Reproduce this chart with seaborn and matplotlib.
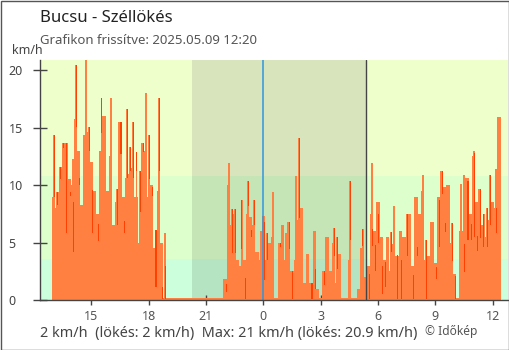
import numpy as np
import pandas as pd
import matplotlib
matplotlib.use("Agg")
import matplotlib.pyplot as plt
import seaborn as sns
from matplotlib.patches import Rectangle

sns.set_theme(style="white")
plt.rcParams['font.family'] = ['Noto Sans', 'DejaVu Sans']

# ---- data (10-minute gust values, hours relative to midnight) ----
start_hour = -11.0          # 13:00 of previous day
step_hour = 1.0 / 6.0

gust = [
    9.0, 8.0, 9.4, 11.6, 13.7, 10.5, 10.0, 15.8, 13.0, 8.3,
    14.4, 14.6, 12.0, 9.5, 7.5, 13.0, 16.0, 9.5, 12.5, 6.5,
    8.5, 15.5, 9.0, 10.6, 11.0, 11.5, 9.0, 5.0, 13.7, 13.0,
    9.0, 10.0, 4.5, 9.5, 5.0, 0.15, 0.15, 0.15, 0.15, 0.15,
    0.15, 0.15, 0.15, 0.15, 0.15, 0.15, 0.15, 0.15, 0.15, 0.15,
    0.15, 0.15, 0.15, 0.15, 1.8, 10.0, 6.5, 7.5, 3.5, 3.0,
    3.5, 7.5, 7.2, 6.5, 4.2, 3.5, 7.3, 3.5, 5.0, 5.5,
    0.15, 5.0, 6.5, 3.5, 6.8, 2.5, 3.5, 7.0, 8.0, 1.5,
    4.0, 1.5, 6.0, 1.0, 0.15, 2.5, 5.5, 2.5, 5.0, 1.5,
    4.0, 0.15, 0.15, 3.5, 0.15, 0.15, 1.0, 4.5, 2.0, 3.0,
    7.5, 6.0, 8.5, 5.5, 3.5, 5.5, 2.5, 4.9, 3.8, 6.0,
    5.5, 5.5, 7.5, 3.0, 9.0, 7.5, 9.5, 3.5, 3.8, 6.8,
    3.2, 9.0, 11.2, 9.8, 10.0, 5.0, 2.3, 0.15, 6.0, 6.0,
    10.6, 7.5, 12.5, 8.5, 9.7, 6.5, 5.5, 7.0, 8.5, 8.0,
    15.9,
]

# narrow gust peaks inside a 10-minute slot (bar index -> value)
peak_idx = [0, 1, 2, 3, 6, 7, 10, 11, 15, 18, 20, 23, 24, 25, 26, 27, 29, 30, 32, 33,
            35, 55, 56, 57, 59, 61, 63, 65, 67, 69, 73, 76, 77, 88, 89, 93, 97, 100,
            106, 107, 111, 116, 117, 125, 128, 129, 132, 135, 136, 137, 139]
peak_val = [14.4, 9.4, 11.6, 13.7, 12.3, 20.5, 20.9, 15.1, 17.6, 17.6, 9.7, 16.6, 13.3, 15.5, 12.9, 11.2, 18.0, 14.4, 6.1, 17.6,
            5.8, 11.9, 7.9, 7.9, 8.7, 10.4, 8.7, 6.0, 5.8, 9.4, 5.8, 10.8, 14.1, 6.3, 5.5, 10.4, 6.2, 11.9,
            5.9, 8.2, 7.5, 10.9, 5.2, 6.7, 10.1, 10.9, 13.0, 7.5, 8.0, 10.9, 11.4]

# darker segments (bar index, top, bottom)
dark_idx = [0, 1, 2, 3, 4, 5, 6, 7, 8, 11, 12, 14, 15, 20, 21, 22, 23, 24, 25, 26,
            27, 28, 30, 31, 32, 33, 34, 35, 54, 56, 57, 59, 60, 61, 62, 63, 66, 67, 71, 74,
            75, 77, 81, 82, 85, 88, 89, 93, 97, 99, 100, 101, 102, 103, 104, 106, 108, 109, 111, 113,
            114, 117, 120, 121, 122, 123, 125, 126, 129, 130, 131, 132, 133, 134, 135, 136, 137, 139]
dark_hi = [14.4, 9.4, 11.6, 13.7, 13.7, 9.4, 8.5, 20.5, 10.6, 15.1, 9.6, 6.6, 17.6, 9.7, 15.5, 6.9, 16.6, 13.3, 15.5, 12.9,
           11.2, 13.7, 14.4, 9.8, 6.1, 17.6, 1.1, 3.0, 1.4, 7.9, 7.9, 8.7, 1.9, 10.4, 6.1, 8.7, 6.8, 5.8, 5.0, 6.8,
           2.5, 14.1, 1.5, 2.7, 2.5, 6.3, 5.5, 10.4, 6.2, 2.3, 6.2, 4.8, 7.5, 3.0, 3.3, 5.9, 3.9, 3.5, 7.5, 2.2,
           4.6, 5.2, 2.9, 8.7, 11.2, 6.7, 6.7, 2.1, 4.9, 10.4, 6.6, 12.8, 5.6, 9.7, 7.5, 8.0, 10.9, 8.0]
dark_lo = [9.0, 8.3, 10.5, 13.2, 5.8, 9.1, 4.2, 15.1, 10.0, 13.0, 5.8, 5.1, 14.5, 6.5, 12.7, 5.8, 10.6, 11.2, 10.6, 11.2,
           7.7, 12.9, 10.5, 9.1, 1.1, 11.2, 0.1, 0.1, 0.7, 4.1, 4.1, 4.4, 0.1, 8.2, 5.5, 6.5, 1.7, 3.5, 4.6, 4.4,
           0.1, 7.1, 0.1, 1.0, 1.3, 3.8, 2.7, 5.2, 4.7, 0.1, 4.7, 2.5, 5.0, 0.5, 1.1, 4.2, 0.1, 0.1, 3.8, 0.1,
           3.8, 0.1, 1.8, 4.6, 9.2, 5.9, 3.4, 0.1, 2.4, 5.2, 5.2, 5.5, 4.3, 5.4, 4.6, 4.6, 6.5, 5.8]

# wind-strength bands (km/h) and colours (day, night)
band_lo = [0.0, 3.6, 10.8]
band_hi = [3.6, 10.8, 25.0]
band_day = ["#ccffdc", "#ddffcc", "#eeffcc"]
band_night = ["#b5e4c3", "#c6e5b7", "#d8e4bb"]
night_start = -3.73
sunrise = 5.38

xtick_pos = [-9, -6, -3, 0, 3, 6, 9, 12]
xtick_lab = ["15", "18", "21", "0", "3", "6", "9", "12"]
ytick_pos = [0, 5, 10, 15, 20]

title = "Bucsu - Széllökés"
subtitle = "Grafikon frissítve: 2025.05.09 12:20"
footer = "2 km/h  (lökés: 2 km/h)  Max: 21 km/h (lökés: 20.9 km/h)"
credit = "© Időkép"

# ---- figure ----
fig = plt.figure(figsize=(5.1, 3.5), dpi=100)
fig.patch.set_facecolor("white")
ax = fig.add_axes([40 / 510, 50 / 350, 468 / 510, 240 / 350])

xmin, xmax = -11.69, 12.81
for lo, hi, dc, nc in zip(band_lo, band_hi, band_day, band_night):
    ax.axhspan(lo, hi, color=dc, lw=0, zorder=0)
    ax.fill_between([night_start, sunrise], lo, hi, color=nc, lw=0, zorder=0.5)

times = start_hour + step_hour * np.arange(len(gust))
df = pd.DataFrame({"t": times, "gust": gust})
sns.barplot(data=df, x="t", y="gust", native_scale=True, width=1.02,
            color="#ff8040", saturation=1, errorbar=None, linewidth=0,
            ax=ax, zorder=2)

pt = start_hour + step_hour * np.array(peak_idx)
ax.bar(pt + 0.03, peak_val, width=0.1, color="#ff8040", lw=0, zorder=3)

dt = start_hour + step_hour * np.array(dark_idx)
dh = np.array(dark_hi)
dl = np.array(dark_lo)
ax.bar(dt + 0.05, dh - dl, bottom=dl, width=0.055, color="#ff4000", lw=0, zorder=4)

ax.axvline(0, color="#2f96e0", lw=1.1, zorder=5)
ax.axvline(sunrise, color="#444444", lw=1, zorder=5)

ax.set_xlim(xmin, xmax)
ax.set_ylim(0, 20.9)
ax.set_xlabel("")
ax.set_ylabel("")
ax.set_xticks(xtick_pos)
ax.set_xticklabels(xtick_lab)
ax.set_yticks(ytick_pos)
ax.set_yticklabels([str(v) for v in ytick_pos])

for s in ["top", "right"]:
    ax.spines[s].set_visible(False)
for s in ["left", "bottom"]:
    ax.spines[s].set_visible(True)
    ax.spines[s].set_color("#444444")
    ax.spines[s].set_linewidth(1)
    ax.spines[s].set_zorder(6)

ax.tick_params(axis="y", direction="inout", length=9.5, width=1, color="#444444",
               labelsize=9, labelcolor="#444444", pad=18, left=True)
ax.tick_params(axis="x", direction="inout", length=7, width=1, color="#444444",
               labelsize=9, labelcolor="#555555", pad=4, bottom=True)
for lbl in ax.get_yticklabels():
    lbl.set_horizontalalignment("left")
for tk, pos in zip(ax.xaxis.get_major_ticks(), xtick_pos):
    if pos == 0:
        tk.tick1line.set_color("#2f96e0")

fig.text(40 / 510, 1 - 18 / 350, title, fontsize=12, color="#222222", va="center", ha="left")
fig.text(40 / 510, 1 - 40 / 350, subtitle, fontsize=9.5, color="#555555", va="center", ha="left")
fig.text(12 / 510, 1 - 51 / 350, "km/h", fontsize=9, color="#444444", va="center", ha="left")
fig.text(40 / 510, 1 - 334 / 350, footer, fontsize=10.4, color="#444444", va="center", ha="left")
fig.text(425 / 510, 1 - 331 / 350, credit, fontsize=8.6, color="#555555", va="center", ha="left")

fig.patches.append(Rectangle((0.5 / 510, 0.5 / 350), 1 - 1 / 510, 1 - 1 / 350,
                             transform=fig.transFigure, fill=False,
                             edgecolor="#555555", lw=1))

fig.savefig("out.png", dpi=100)
